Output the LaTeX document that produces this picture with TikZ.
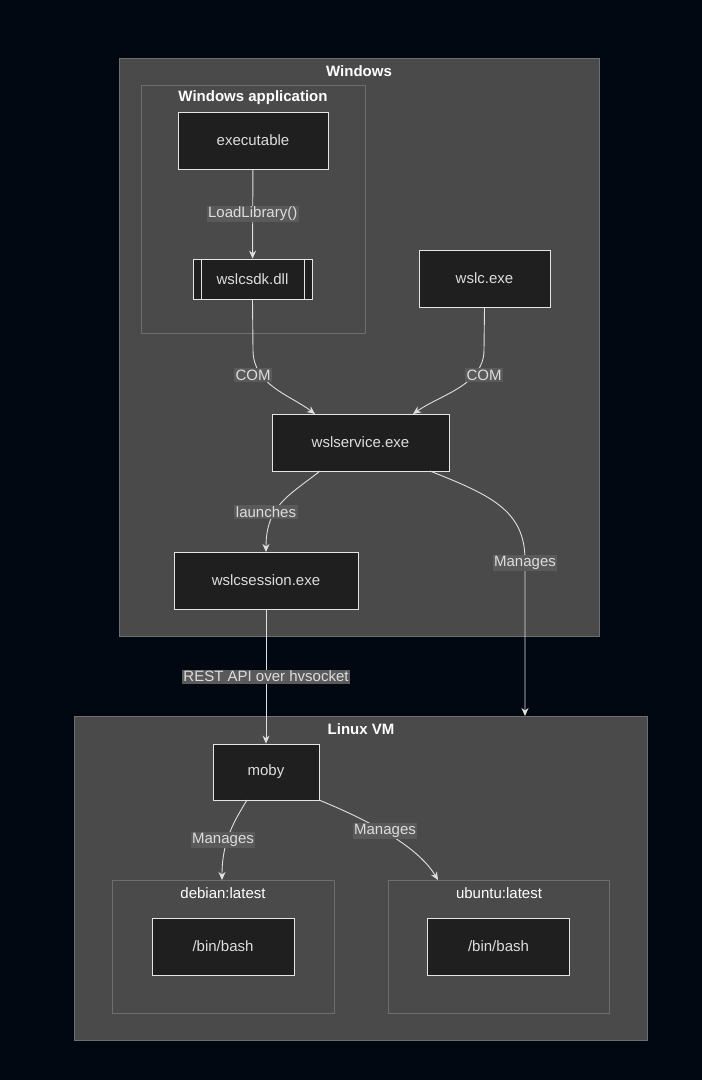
\documentclass[tikz,border=0pt]{standalone}
\usepackage{fontspec}
\setmainfont{Liberation Sans}
\usetikzlibrary{arrows.meta,shapes.misc}
\definecolor{bg}{HTML}{020812}
\definecolor{clus}{HTML}{4A4A4A}
\definecolor{clusb}{HTML}{6E6E6E}
\definecolor{nfill}{HTML}{1F1F1F}
\definecolor{txt}{HTML}{DDDDDD}
\definecolor{lbl}{HTML}{5A5A5A}
\begin{document}
\begin{tikzpicture}[x=1pt,y=-1pt,
  font=\fontsize{15}{17}\selectfont,
  cl/.style={draw=clusb,fill=clus,line width=0.8pt},
  ctitle/.style={text=white,font=\fontsize{15}{17}\selectfont\bfseries},
  nd/.style={draw=txt!80,fill=nfill,text=txt,line width=0.8pt,inner sep=0pt},
  ed/.style={draw=txt!90,line width=0.9pt,-{Stealth[length=8pt,width=7pt]}},
  el/.style={fill=lbl,text=txt,inner sep=1.5pt}]
\useasboundingbox[fill=bg] (0,0) rectangle (702,1080);
% clusters
\draw[cl] (119,58) rectangle (599,636);
\node[ctitle] (tw) at (359,71) {Windows};
\draw[cl] (141,85) rectangle (365,333);
\node[ctitle] (ta) at (253,98) {Windows application};
\draw[cl] (74,716) rectangle (647,1040);
\coordinate (vmtop) at (525,716);
\node[ctitle] (tl) at (361,729) {Linux VM};
\draw[cl] (112,880) rectangle (334,1013);
\node[ctitle,font=\fontsize{15}{17}\selectfont] (td) at (223,893) {debian:latest};
\draw[cl] (388,880) rectangle (609,1013);
\node[ctitle,font=\fontsize{15}{17}\selectfont] (tu) at (499,893) {ubuntu:latest};
% nodes
\node[nd,minimum width=150,minimum height=57] (exe) at (253,140.5) {executable};
\node[nd,minimum width=119,minimum height=40] (dll) at (252.5,279) {wslcsdk.dll};
\draw[txt!80,line width=0.8pt] (201,259)--(201,299) (304,259)--(304,299);
\node[nd,minimum width=131,minimum height=57] (wslc) at (484.5,278.5) {wslc.exe};
\node[nd,minimum width=177,minimum height=57] (svc) at (360.5,442.5) {wslservice.exe};
\node[nd,minimum width=184,minimum height=57] (sess) at (266,580.5) {wslcsession.exe};
\node[nd,minimum width=106,minimum height=56] (moby) at (266,772) {moby};
\node[nd,minimum width=142,minimum height=57] (b1) at (223,946.5) {/bin/bash};
\node[nd,minimum width=142,minimum height=57] (b2) at (498.5,946.5) {/bin/bash};
% edges
\draw[ed] (exe) -- node[el]{LoadLibrary()} (dll);
\draw[ed] (dll.south) -- (253,350) .. controls (253,385) and (290,395) .. (315,414) ;
\node[el] at (253,375) {COM};
\draw[ed] (wslc.south) -- (484,350) .. controls (484,385) and (440,395) .. (413,414);
\node[el] at (484,375) {COM};
\draw[ed] (320,471) .. controls (290,495) and (266,505) .. (266,552);
\node[el] at (266,512) {launches};
\draw[ed] (430,471) .. controls (490,495) and (525,510) .. (525,560) -- (vmtop);
\node[el] at (525,563) {Manages};
\draw[ed] (sess) -- node[el]{REST API over hvsocket} (moby);
\draw[ed] (247,800) .. controls (235,820) and (222,840) .. (222,880);
\node[el] at (223,840) {Manages};
\draw[ed] (319,800) .. controls (380,825) and (420,850) .. (438,880);
\node[el] at (385,831) {Manages};
\end{tikzpicture}
\end{document}
